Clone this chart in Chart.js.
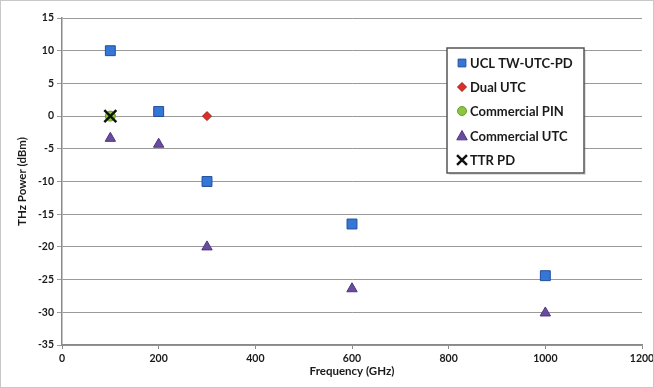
<!DOCTYPE html>
<html>
<head>
<meta charset="utf-8">
<script src="https://cdn.jsdelivr.net/npm/chart.js@4.4.1/dist/chart.umd.min.js"></script>
<style>
  html, body { margin: 0; padding: 0; background: #fff; }
  #wrap { position: relative; width: 654px; height: 388px; box-sizing: border-box; border: 1px solid #c8c8c8; }
  canvas { display: block; }
</style>
</head>
<body>
<div id="wrap"><canvas id="chart" width="652" height="386"></canvas></div>
<script>
// Data (x = GHz, y = dBm)
const uclFreq = [100, 200, 300, 600, 1000];
const uclPower = [10, 0.7, -10, -16.5, -24.4];
const dualFreq = [300];
const dualPower = [0];
const pinFreq = [100];
const pinPower = [0];
const commUtcFreq = [100, 200, 300, 600, 1000];
const commUtcPower = [-3.4, -4.3, -20, -26.4, -30.1];
const ttrFreq = [100];
const ttrPower = [0];

const xTicks = [0, 200, 400, 600, 800, 1000, 1200];
const yTicks = [15, 10, 5, 0, -5, -10, -15, -20, -25, -30, -35];

function toPoints(xs, ys) {
    return xs.map((x, i) => ({ x: x, y: ys[i] }));
}

const FONT = 'Lato, "Open Sans", sans-serif';

// Small marker drawer, used for the legend
function drawMarker(ctx, style, x, y, r, fill, stroke, lw) {
    ctx.save();
    ctx.fillStyle = fill;
    ctx.strokeStyle = stroke;
    ctx.lineWidth = lw;
    ctx.beginPath();
    if (style === 'rect') {
        const s = r * Math.SQRT1_2;
        ctx.rect(x - s, y - s, 2 * s, 2 * s);
        ctx.fill(); ctx.stroke();
    } else if (style === 'rectRot') {
        ctx.moveTo(x, y - r); ctx.lineTo(x + r, y); ctx.lineTo(x, y + r); ctx.lineTo(x - r, y);
        ctx.closePath(); ctx.fill(); ctx.stroke();
    } else if (style === 'circle') {
        ctx.arc(x, y, r, 0, Math.PI * 2);
        ctx.fill(); ctx.stroke();
    } else if (style === 'triangle') {
        ctx.moveTo(x, y - r); ctx.lineTo(x + r * 0.95, y + r * 0.7); ctx.lineTo(x - r * 0.95, y + r * 0.7);
        ctx.closePath(); ctx.fill(); ctx.stroke();
    } else if (style === 'crossRot') {
        const d = r * Math.SQRT1_2;
        ctx.moveTo(x - d, y - d); ctx.lineTo(x + d, y + d);
        ctx.moveTo(x + d, y - d); ctx.lineTo(x - d, y + d);
        ctx.stroke();
    }
    ctx.restore();
}

// Legend box drawn inside the plot area
const boxLegend = {
    id: 'boxLegend',
    afterDraw(chart) {
        const ctx = chart.ctx;
        const bx = 446, by = 47, bw = 137, bh = 125;
        ctx.save();
        ctx.fillStyle = 'rgba(0,0,0,0.12)';
        ctx.fillRect(bx + 2, by + 2, bw, bh);
        ctx.fillStyle = '#fff';
        ctx.fillRect(bx, by, bw, bh);
        ctx.strokeStyle = '#555';
        ctx.lineWidth = 1.5;
        ctx.strokeRect(bx, by, bw, bh);
        ctx.font = 'bold 13px ' + FONT;
        ctx.fillStyle = '#1a1a1a';
        ctx.textBaseline = 'middle';
        const rows = [62, 86, 110, 135, 159];
        chart.data.datasets.forEach((ds, i) => {
            const y = rows[i];
            drawMarker(ctx, ds.pointStyle, 461, y, ds.legendRadius, ds.backgroundColor, ds.borderColor, ds.pointBorderWidth);
            ctx.fillText(ds.label, 469, y + 1);
        });
        ctx.restore();
    }
};

const ctx = document.getElementById('chart').getContext('2d');
const chart = new Chart(ctx, {
    type: 'scatter',
    data: {
        datasets: [
            {
                label: 'UCL TW-UTC-PD',
                data: toPoints(uclFreq, uclPower),
                pointStyle: 'rect',
                pointRadius: 7,
                backgroundColor: '#3576d6',
                borderColor: '#1f4f9c',
                pointBorderWidth: 1,
                legendRadius: 5.5
            },
            {
                label: 'Dual UTC',
                data: toPoints(dualFreq, dualPower),
                pointStyle: 'rectRot',
                pointRadius: 4.5,
                backgroundColor: '#d9302a',
                borderColor: '#a81e1a',
                pointBorderWidth: 1,
                legendRadius: 4.5
            },
            {
                label: 'Commercial PIN',
                data: toPoints(pinFreq, pinPower),
                pointStyle: 'circle',
                pointRadius: 5,
                backgroundColor: '#8cc63f',
                borderColor: '#6a9a2c',
                pointBorderWidth: 1,
                legendRadius: 4.5
            },
            {
                label: 'Commercial UTC',
                data: toPoints(commUtcFreq, commUtcPower),
                pointStyle: 'triangle',
                pointRadius: 6,
                backgroundColor: '#6a4c9e',
                borderColor: '#4f3680',
                pointBorderWidth: 1,
                legendRadius: 5.5
            },
            {
                label: 'TTR PD',
                data: toPoints(ttrFreq, ttrPower),
                pointStyle: 'crossRot',
                pointRadius: 8.5,
                backgroundColor: '#111',
                borderColor: '#111',
                pointBorderWidth: 2.5,
                legendRadius: 7,
                order: -1
            }
        ]
    },
    options: {
        responsive: false,
        animation: false,
        layout: { padding: { left: 0, top: 17, right: 10, bottom: 0 } },
        plugins: {
            legend: { display: false },
            tooltip: { enabled: false }
        },
        scales: {
            x: {
                type: 'linear',
                min: 0,
                max: 1200,
                afterBuildTicks: (scale) => { scale.ticks = xTicks.map(v => ({ value: v })); },
                afterFit: (scale) => { scale.height = 42; scale.paddingRight = 0; scale.paddingLeft = 0; },
                border: { color: '#8a8a8a', width: 1.5 },
                grid: { drawOnChartArea: false, drawTicks: true, tickLength: 4, color: '#8a8a8a' },
                ticks: {
                    color: '#1a1a1a',
                    font: { family: FONT, size: 10.5, weight: 'bold' },
                    padding: 3,
                    callback: (v) => String(v)
                },
                title: {
                    display: true,
                    text: 'Frequency (GHz)',
                    color: '#1a1a1a',
                    font: { family: FONT, size: 11.5, weight: 'bold' },
                    padding: { top: 2, bottom: 9 }
                }
            },
            y: {
                type: 'linear',
                min: -35,
                max: 15,
                afterBuildTicks: (scale) => { scale.ticks = yTicks.map(v => ({ value: v })); },
                afterFit: (scale) => { scale.width = 61; },
                border: { color: '#8a8a8a', width: 1.5 },
                grid: { color: '#9a9a9a', lineWidth: 1, tickLength: 5 },
                ticks: {
                    color: '#1a1a1a',
                    font: { family: FONT, size: 10.5, weight: 'bold' },
                    padding: 3,
                    callback: (v) => String(v)
                },
                title: {
                    display: true,
                    text: 'THz Power (dBm)',
                    color: '#1a1a1a',
                    font: { family: FONT, size: 11.5, weight: 'bold' },
                    padding: { top: 14, bottom: 2 }
                }
            }
        }
    },
    plugins: [boxLegend]
});
</script>
</body>
</html>
